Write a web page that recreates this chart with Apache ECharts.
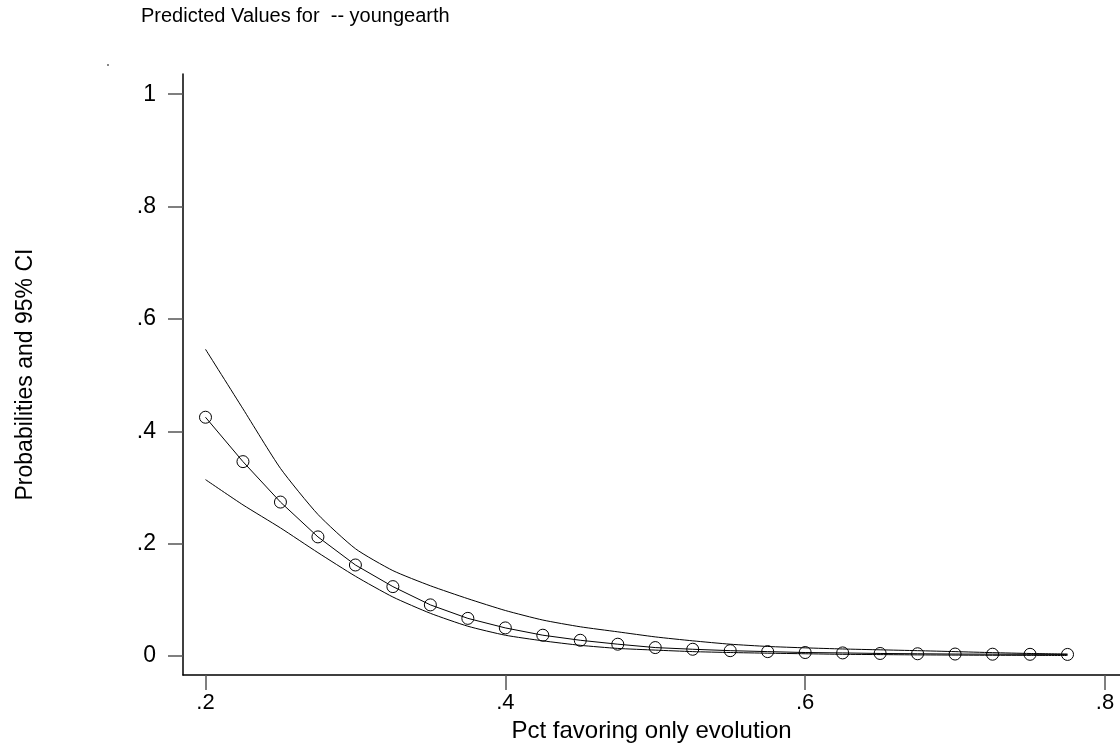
<!DOCTYPE html>
<html>
<head>
<meta charset="utf-8">
<title>Predicted Values for youngearth</title>
<script src="https://cdn.jsdelivr.net/npm/echarts@6/dist/echarts.min.js"></script>
<style>
  html, body { margin: 0; padding: 0; background: #fff; }
  #main { width: 1120px; height: 748px; }
</style>
</head>
<body>
<div id="main"></div>
<script>
// x values (pct favoring only evolution)
var pctEvolution = [0.2, 0.225, 0.25, 0.275, 0.3, 0.325, 0.35, 0.375, 0.4, 0.425, 0.45, 0.475,
                    0.5, 0.525, 0.55, 0.575, 0.6, 0.625, 0.65, 0.675, 0.7, 0.725, 0.75, 0.775];
// predicted probability (circles)
var predicted = [0.425, 0.346, 0.274, 0.212, 0.162, 0.1235, 0.091, 0.067, 0.050, 0.037, 0.028, 0.021,
                 0.015, 0.012, 0.0095, 0.0078, 0.0062, 0.0055, 0.0045, 0.004, 0.0035, 0.0032, 0.003, 0.0028];
// upper 95% CI
var upperCI = [0.546, 0.440, 0.334, 0.252, 0.191, 0.152, 0.125, 0.102, 0.081, 0.064, 0.052, 0.043,
               0.034, 0.027, 0.021, 0.017, 0.0145, 0.0125, 0.011, 0.0095, 0.0078, 0.006, 0.0045, 0.0035];
// lower 95% CI
var lowerCI = [0.314, 0.269, 0.228, 0.184, 0.142, 0.105, 0.076, 0.053, 0.037, 0.027, 0.019, 0.0135,
               0.0105, 0.0078, 0.0062, 0.005, 0.004, 0.003, 0.0025, 0.002, 0.0016, 0.0013, 0.0011, 0.0009];

var xTicks = [0.2, 0.4, 0.6, 0.8];
var yTicks = [0, 0.2, 0.4, 0.6, 0.8, 1];

function pairs(ys) {
    var arr = [];
    for (var i = 0; i < pctEvolution.length; i++) {
        arr.push([pctEvolution[i], ys[i]]);
    }
    return arr;
}

// stata style labels: ".2" instead of "0.2"
function stataLabel(v) {
    var s = String(Math.round(v * 10) / 10);
    return s.replace(/^0\./, '.');
}

var chart = echarts.init(document.getElementById('main'));
var font = 'Liberation Sans, Arial, sans-serif';

var option = {
    animation: false,
    backgroundColor: '#fff',
    textStyle: { fontFamily: font, color: '#000' },
    title: {
        text: 'Predicted Values for  -- youngearth',
        left: 136,
        top: 1,
        textStyle: { fontFamily: font, fontSize: 20, fontWeight: 'normal', color: '#000' }
    },
    graphic: [
        { type: 'rect', shape: { x: 107, y: 64, width: 2, height: 2 }, style: { fill: '#888' } }
    ],
    grid: { left: 183, right: 0, top: 74, bottom: 68, containLabel: false },
    xAxis: {
        type: 'value',
        min: 0.185,
        max: 0.81,
        name: 'Pct favoring only evolution',
        nameLocation: 'middle',
        nameGap: 38,
        nameTextStyle: { fontFamily: font, fontSize: 24, color: '#000' },
        axisLine: { show: true, onZero: false, lineStyle: { color: '#000', width: 1.5 } },
        axisTick: { show: true, length: 15, lineStyle: { color: '#555', width: 1.5 },
                    customValues: xTicks },
        axisLabel: { fontFamily: font, fontSize: 22, color: '#000', margin: 17,
                     customValues: xTicks, formatter: stataLabel },
        splitLine: { show: false }
    },
    yAxis: {
        type: 'value',
        min: -0.034,
        max: 1.036,
        name: 'Probabilities and 95% CI',
        nameLocation: 'middle',
        nameGap: 146,
        nameTextStyle: { fontFamily: font, fontSize: 23, color: '#000' },
        axisLine: { show: true, onZero: false, lineStyle: { color: '#000', width: 1.5 } },
        axisTick: { show: true, length: 15, lineStyle: { color: '#555', width: 1.5 },
                    customValues: yTicks },
        axisLabel: { fontFamily: font, fontSize: 23, color: '#000', margin: 27,
                     customValues: yTicks, formatter: stataLabel },
        splitLine: { show: false }
    },
    series: [
        {
            name: 'upper',
            type: 'line',
            data: pairs(upperCI),
            showSymbol: false,
            symbol: 'none',
            smooth: 0.2,
            lineStyle: { color: '#000', width: 1 }
        },
        {
            name: 'lower',
            type: 'line',
            data: pairs(lowerCI),
            showSymbol: false,
            symbol: 'none',
            smooth: 0.2,
            lineStyle: { color: '#000', width: 1 }
        },
        {
            name: 'predicted',
            type: 'line',
            data: pairs(predicted),
            symbol: 'circle',
            symbolSize: 12,
            lineStyle: { color: '#000', width: 1 },
            itemStyle: { color: 'rgba(0,0,0,0)', borderColor: '#000', borderWidth: 1 }
        }
    ]
};
chart.setOption(option);
</script>
</body>
</html>
